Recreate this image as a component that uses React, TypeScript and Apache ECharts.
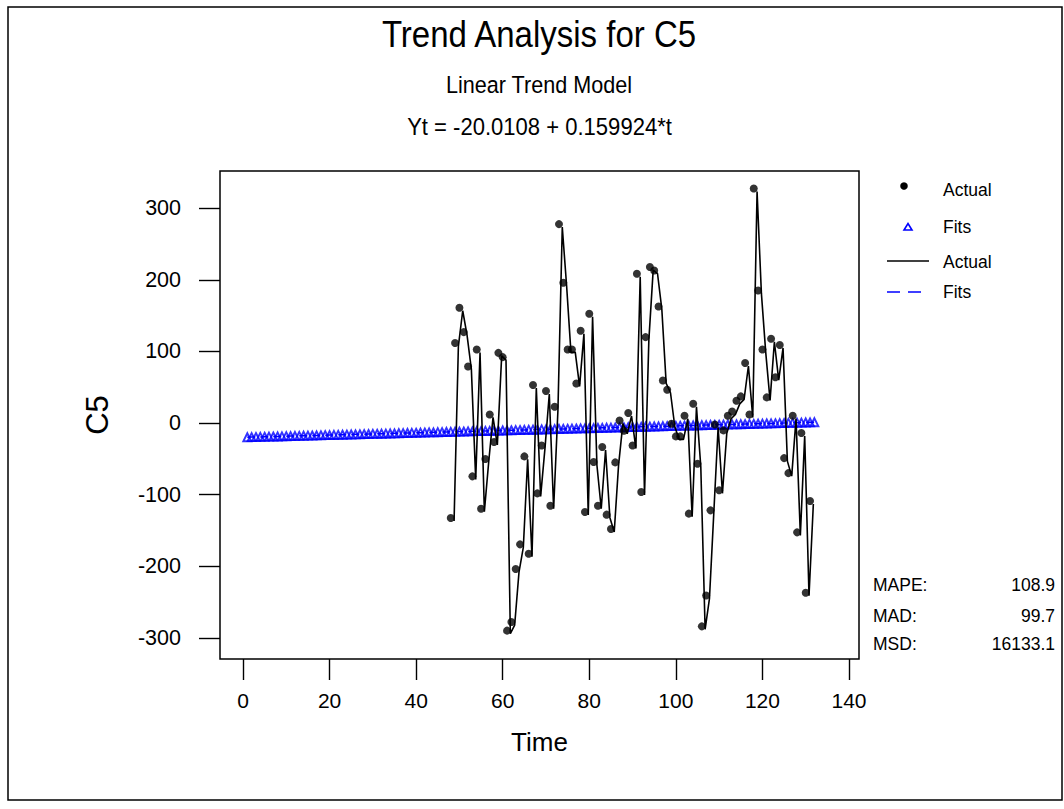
import { useEffect, useRef } from "react";
import * as echarts from "echarts";

// Actual series: first time index and observed values (t = 48 ... 131)
const actualStart = 48;
const actualValues = [
  -132.7, 111.7, 161, 127, 79, -74.5, 102.8, -119.7, -50.3, 12, -26.5, 98, 92,
  -290, -278, -204, -169.5, -46.6, -182.5, 53, -98.3, -31.3, 44.7, -115.5, 22.8,
  277.8, 195.9, 102.8, 102.8, 55.3, 128.9, -124.3, 152.6, -54.5, -115.5, -33.5,
  -128, -148, -55, 3.6, -10.8, 14, -31.3, 208.5, -96.4, 120, 217.8, 213, 162.8,
  59.5, 46.5, -1, -18.7, -18.7, 10.2, -126.6, 27, -56.8, -284, -241, -122, -2,
  -94, -10.3, 10.2, 16.2, 31, 37.2, 83.8, 12, 327.6, 185.2, 102.8, 35.8, 117.7,
  64, 109, -49, -70, 10.2, -152.7, -14, -237, -109,
];

// Fitted values for t = 1 ... 132
const fitStart = 1;
const fitValues = [
  -19.85, -19.69, -19.53, -19.37, -19.21, -19.05, -18.89, -18.73, -18.57, -18.41,
  -18.25, -18.09, -17.93, -17.77, -17.61, -17.45, -17.29, -17.13, -16.97, -16.81,
  -16.65, -16.49, -16.33, -16.17, -16.01, -15.85, -15.69, -15.53, -15.37, -15.21,
  -15.05, -14.89, -14.73, -14.57, -14.41, -14.25, -14.09, -13.93, -13.77, -13.61,
  -13.45, -13.29, -13.13, -12.97, -12.81, -12.65, -12.49, -12.33, -12.17, -12.01,
  -11.85, -11.69, -11.53, -11.37, -11.22, -11.06, -10.9, -10.74, -10.58, -10.42,
  -10.26, -10.1, -9.94, -9.78, -9.62, -9.46, -9.3, -9.14, -8.98, -8.82,
  -8.66, -8.5, -8.34, -8.18, -8.02, -7.86, -7.7, -7.54, -7.38, -7.22,
  -7.06, -6.9, -6.74, -6.58, -6.42, -6.26, -6.1, -5.94, -5.78, -5.62,
  -5.46, -5.3, -5.14, -4.98, -4.82, -4.66, -4.5, -4.34, -4.18, -4.02,
  -3.86, -3.7, -3.54, -3.38, -3.22, -3.06, -2.9, -2.74, -2.58, -2.42,
  -2.26, -2.1, -1.94, -1.78, -1.62, -1.46, -1.3, -1.14, -0.98, -0.82,
  -0.66, -0.5, -0.34, -0.18, -0.02, 0.14, 0.3, 0.46, 0.62, 0.78,
  0.94, 1.1,
];

const xTicks = [0, 20, 40, 60, 80, 100, 120, 140];
const yTicks = [-300, -200, -100, 0, 100, 200, 300];

const titleText = "Trend Analysis for C5";
const subtitleText = "Linear Trend Model";
const equationText = "Yt = -20.0108 + 0.159924*t";
const legendLabels = ["Actual", "Fits", "Actual", "Fits"];
const statNames = ["MAPE:", "MAD:", "MSD:"];
const statValues = ["108.9", "99.7", "16133.1"];

const FONT = "'Liberation Sans', Arial, Helvetica, sans-serif";

export default function App() {
  const ref = useRef<HTMLDivElement>(null);

  useEffect(() => {
    if (!ref.current) return;
    const chart = echarts.init(ref.current, undefined, { renderer: "svg" });

    const actualData = actualValues.map((v, i) => [actualStart + i, v]);
    const fitData = fitValues.map((v, i) => [fitStart + i, v]);

    const xMin = -5.31;
    const xMax = 142.31;
    const yMin = -329.6;
    const yMax = 352;

    const baseX = {
      type: "value" as const,
      min: xMin,
      max: xMax,
      splitLine: { show: false },
    };
    const baseY = {
      type: "value" as const,
      min: yMin,
      max: yMax,
      splitLine: { show: false },
    };

    const legendTextY = [190, 227, 262, 292];
    const statY = [585, 616, 644];

    const graphics: any[] = [
      {
        type: "rect",
        shape: { x: 8, y: 7, width: 1054, height: 793 },
        style: { fill: "none", stroke: "#000", lineWidth: 1.5 },
        silent: true,
      },
      {
        type: "text",
        x: 539,
        y: 33.5,
        scaleX: 0.88,
        style: {
          text: titleText,
          x: 0,
          y: 0,
          fontSize: 37.5,
          fontFamily: FONT,
          fill: "#000",
          align: "center",
          verticalAlign: "middle",
        },
      },
      {
        type: "text",
        x: 539,
        y: 85.5,
        scaleX: 0.92,
        style: {
          text: subtitleText,
          x: 0,
          y: 0,
          fontSize: 23.5,
          fontFamily: FONT,
          fill: "#000",
          align: "center",
          verticalAlign: "middle",
        },
      },
      {
        type: "text",
        x: 539.5,
        y: 127,
        scaleX: 0.9,
        style: {
          text: equationText,
          x: 0,
          y: 0,
          fontSize: 24.5,
          fontFamily: FONT,
          fill: "#000",
          align: "center",
          verticalAlign: "middle",
        },
      },
      // legend symbols
      {
        type: "circle",
        shape: { cx: 904, cy: 186, r: 3.8 },
        style: { fill: "#000" },
      },
      {
        type: "polygon",
        shape: {
          points: [
            [904, 230],
            [912, 230],
            [908, 223.5],
          ],
        },
        style: { fill: "none", stroke: "#0000ff", lineWidth: 1.6 },
      },
      {
        type: "line",
        shape: { x1: 887, y1: 261, x2: 929, y2: 261 },
        style: { stroke: "#000", lineWidth: 1.5 },
      },
      {
        type: "line",
        shape: { x1: 887, y1: 292, x2: 929, y2: 292 },
        style: { stroke: "#0000ff", lineWidth: 1.5, lineDash: [13, 8] },
      },
    ];

    legendLabels.forEach((label, i) => {
      graphics.push({
        type: "text",
        x: 943,
        y: legendTextY[i],
        style: {
          text: label,
          x: 0,
          y: 0,
          fontSize: 17.5,
          fontFamily: FONT,
          fill: "#000",
          align: "left",
          verticalAlign: "middle",
        },
      });
    });

    statNames.forEach((name, i) => {
      graphics.push({
        type: "text",
        x: 873,
        y: statY[i],
        style: {
          text: name,
          x: 0,
          y: 0,
          fontSize: 17.5,
          fontFamily: FONT,
          fill: "#000",
          align: "left",
          verticalAlign: "middle",
        },
      });
      graphics.push({
        type: "text",
        x: 1055,
        y: statY[i],
        style: {
          text: statValues[i],
          x: 0,
          y: 0,
          fontSize: 17.5,
          fontFamily: FONT,
          fill: "#000",
          align: "right",
          verticalAlign: "middle",
        },
      });
    });

    chart.setOption({
      animation: false,
      backgroundColor: "#fff",
      textStyle: { fontFamily: FONT },
      grid: [
        {
          left: 220,
          top: 171,
          width: 639,
          height: 488,
          show: true,
          borderColor: "#000",
          borderWidth: 1.5,
          backgroundColor: "transparent",
        },
        {
          left: 223.3,
          top: 174,
          width: 639,
          height: 488,
          show: false,
        },
      ],
      xAxis: [
        {
          ...baseX,
          gridIndex: 0,
          position: "bottom",
          axisLine: { show: false, onZero: false },
          axisTick: {
            show: true,
            inside: false,
            length: 21,
            lineStyle: { color: "#000", width: 1.4 },
            customValues: xTicks,
          },
          axisLabel: {
            show: true,
            color: "#000",
            fontSize: 21,
            fontFamily: FONT,
            margin: 31,
            customValues: xTicks,
          },
          name: "Time",
          nameLocation: "middle",
          nameGap: 70,
          nameTextStyle: { color: "#000", fontSize: 26, fontFamily: FONT },
        },
        {
          ...baseX,
          gridIndex: 1,
          show: false,
          axisLine: { show: false, onZero: false },
        },
      ],
      yAxis: [
        {
          ...baseY,
          gridIndex: 0,
          position: "left",
          axisLine: { show: false, onZero: false },
          axisTick: {
            show: true,
            inside: false,
            length: 21,
            lineStyle: { color: "#000", width: 1.4 },
            customValues: yTicks,
          },
          axisLabel: {
            show: true,
            color: "#000",
            fontSize: 21.5,
            fontFamily: FONT,
            margin: 39,
            customValues: yTicks,
          },
          name: "C5",
          nameLocation: "middle",
          nameGap: 107,
          nameRotate: 90,
          nameTextStyle: { color: "#000", fontSize: 31, fontFamily: FONT },
        },
        {
          ...baseY,
          gridIndex: 1,
          show: false,
          axisLine: { show: false, onZero: false },
        },
      ],
      graphic: graphics,
      series: [
        {
          name: "Fits line",
          type: "line",
          xAxisIndex: 0,
          yAxisIndex: 0,
          data: fitData,
          symbol: "none",
          lineStyle: { color: "#0000ff", width: 1.5, type: [8, 5] },
          z: 2,
          silent: true,
        },
        {
          name: "Fits",
          type: "scatter",
          xAxisIndex: 0,
          yAxisIndex: 0,
          data: fitData,
          symbol: "triangle",
          symbolSize: [8, 8],
          itemStyle: {
            color: "rgba(255,255,255,0)",
            borderColor: "#0000ff",
            borderWidth: 1.9,
          },
          z: 3,
          silent: true,
        },
        {
          name: "Actual line",
          type: "line",
          xAxisIndex: 1,
          yAxisIndex: 1,
          data: actualData,
          symbol: "none",
          lineStyle: { color: "#000", width: 1.6 },
          z: 4,
          silent: true,
        },
        {
          name: "Actual",
          type: "scatter",
          xAxisIndex: 0,
          yAxisIndex: 0,
          data: actualData,
          symbol: "circle",
          symbolSize: 8,
          itemStyle: { color: "#000" },
          z: 5,
          silent: true,
        },
      ],
    });

    return () => {
      chart.dispose();
    };
  }, []);

  return (
    <div
      ref={ref}
      style={{
        position: "fixed",
        left: 0,
        top: 0,
        width: 1064,
        height: 809,
        background: "#fff",
      }}
    />
  );
}
